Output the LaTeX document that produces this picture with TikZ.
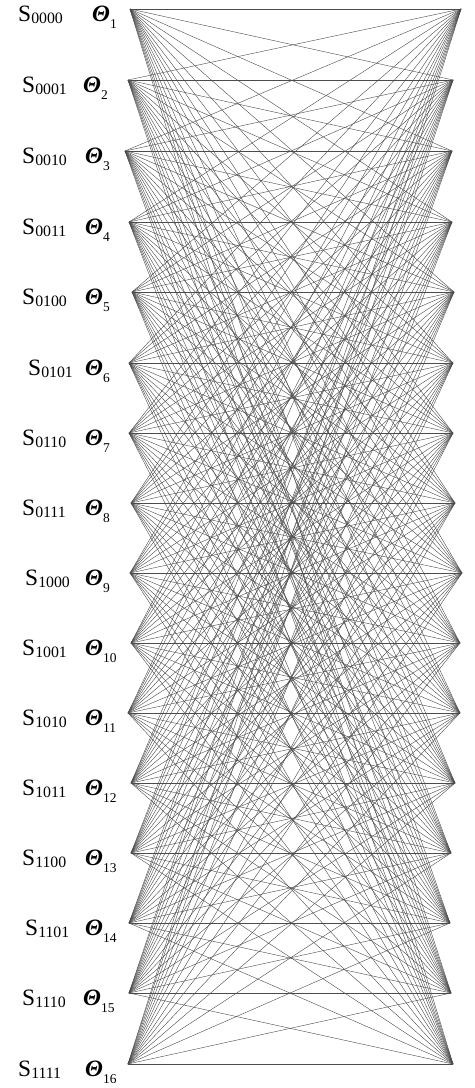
\documentclass[tikz,border=0pt]{standalone}
\usepackage{fontspec}
\setmainfont{Liberation Serif}
\usetikzlibrary{positioning}
\newcommand\stsub[1]{\raisebox{-2.5pt}{\fontsize{13.5}{14}\selectfont #1}}
\newcommand\thsub[1]{\raisebox{-6pt}{\fontsize{11.5}{12}\selectfont\mdseries\upshape #1}}

\begin{document}
\begin{tikzpicture}[x=0.03cm,y=-0.03cm,
  state/.style={anchor=base west,inner sep=0pt,font=\fontsize{20}{22}\selectfont},
  angle/.style={anchor=base west,inner sep=0pt,font=\fontsize{20}{22}\selectfont\bfseries\itshape},
  link/.style={black!70,line width=.35pt}]
 \useasboundingbox (0,0) rectangle (474,1088);
 % vertices and their labels
 \foreach \lx/\rx/\y/\b/\sx/\tx [count=\i] in
   {130/461/9/0000/18/92, 128/453/80/0001/22/83, 125/452/151/0010/22/85,
    129/452/222/0011/22/85, 132/454/292/0100/22/85, 129/453/363/0101/28/85,
    129/453/433/0110/22/85, 131/455/503/0111/22/85, 130/462/573/1000/25/85,
    131/460/643/1001/22/85, 128/460/713/1010/22/85, 131/455/783/1011/22/85,
    131/451/853/1100/22/85, 129/450/923/1101/25/85, 129/451/993/1110/22/83,
    128/453/1064/1111/18/85}{
   \coordinate (l\i) at (\lx,\y);
   \coordinate (r\i) at (\rx,\y);
   \node[state] (s\i) at (\sx,\y+12) {S\stsub{\b}};
   \node[angle] (t\i) at (\tx,\y+12) {Θ\thsub{\i}};
 }
 % every left vertex to every right vertex
 \foreach \i in {1,...,16}{
   \foreach \j in {1,...,16}{
     \draw[link] (l\i) -- (r\j);
   }
 }
\end{tikzpicture}
\end{document}
